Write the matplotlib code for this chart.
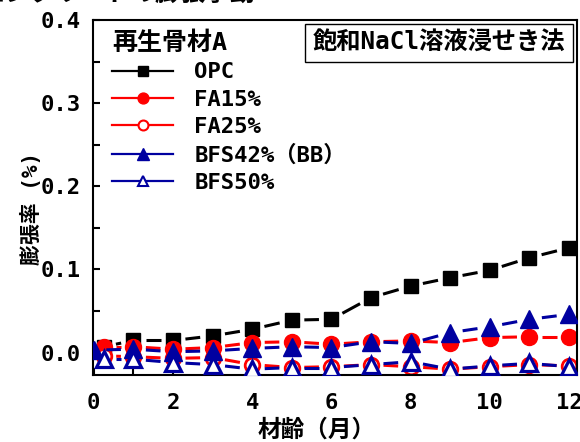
import matplotlib
matplotlib.use('Agg')
import matplotlib.pyplot as plt
from matplotlib.lines import Line2D
from matplotlib.ticker import MultipleLocator
import numpy as np

plt.rcParams['font.family'] = ['DejaVu Sans Mono', 'Noto Sans CJK JP']
plt.rcParams['font.weight'] = 'bold'

# ---- data ----
months = [0.25, 1, 2, 3, 4, 5, 6, 7, 8, 9, 10, 11, 12]
months_bb = [0, 1, 2, 3, 4, 5, 6, 7, 8, 9, 10, 11, 12]
opc = [0.007, 0.0145, 0.0145, 0.020, 0.028, 0.039, 0.040, 0.066, 0.080, 0.090, 0.099, 0.114, 0.126]
fa15 = [0.007, 0.007, 0.004, 0.006, 0.012, 0.013, 0.010, 0.013, 0.014, 0.012, 0.018, 0.019, 0.019]
fa25 = [-0.004, -0.005, -0.007, -0.006, -0.0145, -0.018, -0.017, -0.0145, -0.017, -0.020, -0.017, -0.0145, -0.016]
bfs42 = [0.003, 0.004, 0.001, 0.002, 0.005, 0.007, 0.006, 0.013, 0.011, 0.024, 0.031, 0.040, 0.046]
bfs50 = [-0.008, -0.008, -0.012, -0.0145, -0.020, -0.018, -0.018, -0.0145, -0.011, -0.020, -0.016, -0.013, -0.017]
labels = ['OPC', 'FA15%', 'FA25%', 'BFS42%（BB）', 'BFS50%']
legend_title = '再生骨材A'
box_text = '飽和NaCl溶液浸せき法'
xlabel = '材齢（月）'
ylabel = '膨張率 (%)'
top_title = 'コンクリートの膨張挙動'

RED = '#ff0000'
BLUE = '#0000a0'

fig = plt.figure(figsize=(5.8, 4.42), dpi=100)
ax = fig.add_axes([93/580, 67/442, 484/580, 355/442])
ax.set_xlim(-0.02, 12.2)
ax.set_ylim(-0.027, 0.4)

ax.xaxis.set_major_locator(MultipleLocator(2))
ax.xaxis.set_minor_locator(MultipleLocator(1))
ax.yaxis.set_major_locator(MultipleLocator(0.1))
ax.yaxis.set_minor_locator(MultipleLocator(0.05))
ax.yaxis.set_major_formatter(matplotlib.ticker.FormatStrFormatter('%.1f'))
ax.tick_params(which='both', direction='in', length=5, width=1.5, top=False, right=False)
ax.tick_params(which='major', labelsize=16)
ax.tick_params(axis='y', which='major', pad=9)
ax.tick_params(axis='x', which='major', pad=13)
for s in ax.spines.values():
    s.set_linewidth(1.5)


def gapped(xs, ys, color, z, gap=12.5, lw=2.2):
    pts = ax.transData.transform(np.column_stack([xs, ys]))
    inv = ax.transData.inverted()
    for p0, p1 in zip(pts[:-1], pts[1:]):
        d = p1 - p0
        L = np.hypot(*d)
        if L <= 2 * gap + 1:
            continue
        u = d / L
        a = inv.transform(p0 + u * gap)
        b = inv.transform(p1 - u * gap)
        ax.plot([a[0], b[0]], [a[1], b[1]], color=color, lw=lw,
                solid_capstyle='butt', zorder=z, clip_on=True)


series = [
    (months, opc, 'k', 's', 'k', 10, 1.0),
    (months, fa15, RED, 'o', RED, 11.5, 1.0),
    (months, fa25, RED, 'o', 'white', 10.5, 2.0),
    (months_bb, bfs42, BLUE, '^', BLUE, 13, 1.0),
    (months, bfs50, BLUE, '^', 'white', 11, 2.3),
]
for i, (xs, ys, c, m, fc, ms, mew) in enumerate(series):
    gapped(xs, ys, c, z=2 + i * 0.2)
    ax.plot(xs, ys, ls='none', marker=m, ms=ms, mfc=fc, mec=c, mew=mew,
            zorder=2.1 + i * 0.2, clip_on=True)

handles = []
for (xs, ys, c, m, fc, ms, mew) in series:
    handles.append(Line2D([], [], color=c, lw=1.6, marker=m, mfc=fc, mec=c,
                          ms=ms * 0.68, mew=min(mew, 1.5)))
leg = ax.legend(handles, labels, title=legend_title, loc='upper left',
                bbox_to_anchor=((112 - 93) / 484, 1 - (31 - 20) / 355),
                frameon=False, handlelength=2.75, handletextpad=0.95,
                labelspacing=0.33, borderpad=0, borderaxespad=0,
                alignment='left', prop={'size': 16, 'weight': 'bold'},
                title_fontproperties={'size': 18, 'weight': 'bold'})

ax.text((439 - 93) / 484, 1 - (43 - 20) / 355, box_text, transform=ax.transAxes,
        ha='center', va='center', fontsize=17.5, fontweight='bold',
        bbox=dict(boxstyle='square,pad=0.3', fc='white', ec='black', lw=1.0), zorder=5)

ax.set_xlabel(xlabel, fontsize=17, fontweight='bold')
ax.xaxis.set_label_coords((317 - 93) / 484, -(418 - 375) / 355)
ax.set_ylabel(ylabel, fontsize=15, fontweight='bold')
ax.yaxis.set_label_coords((42 - 93) / 484, 1 - (208 - 20) / 355)

fig.text(255 / 580, 1 - 1 / 442, top_title, ha='right', va='baseline',
         fontsize=18, fontweight='bold')

fig.savefig('out.png', dpi=100)
